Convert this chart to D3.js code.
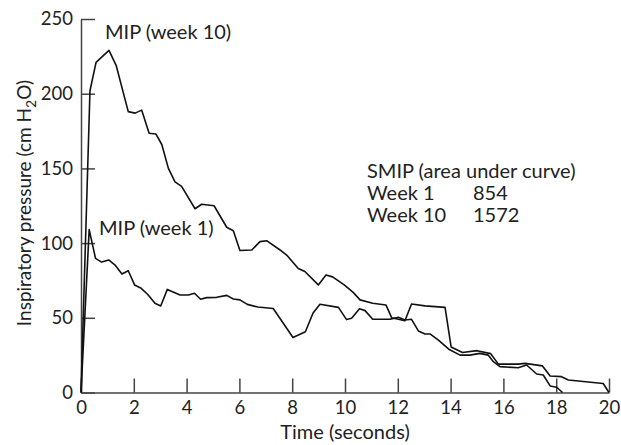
<!DOCTYPE html>
<html>
<head>
<meta charset="utf-8">
<script src="https://cdn.jsdelivr.net/npm/d3@7"></script>
<style>
  body { margin: 0; background: #fff; }
  text { font-family: Lato, "Open Sans", sans-serif; fill: #222; }
</style>
</head>
<body>
<div id="d3-container"></div>
<script>
// readings: time (s), pressure (cm H2O)
var week10Time = [0, 0.34, 0.57, 1.06, 1.33, 1.79, 2.05, 2.3, 2.58, 2.84, 3.06, 3.31, 3.56, 3.81, 4.32, 4.57, 5.04, 5.52, 5.77, 6.02, 6.47, 6.78, 7.03, 7.54, 7.79, 8.23, 8.48, 8.99, 9.28, 9.53, 9.97, 10.31, 10.57, 11.05, 11.55, 11.77, 12.27, 12.52, 13.03, 13.79, 14.02, 14.45, 15.0, 15.52, 15.81, 16.56, 16.82, 17.48, 17.77, 18.2, 18.46, 19.78, 20.0];
var week10Pressure = [0, 202, 221, 229, 219, 188, 187, 189, 173.5, 173, 166, 150, 141, 138, 123, 126, 125, 110.6, 108.3, 95, 95.4, 101, 101.6, 95.4, 92, 83, 81, 72, 78.6, 77.4, 72, 67, 62, 59.7, 58.6, 50, 48, 59.2, 58, 57, 30.5, 26.8, 28, 26, 19, 19, 19.5, 17.8, 11, 10.6, 8.4, 6, 0];

var week1Time = [0, 0.31, 0.55, 0.78, 1.05, 1.29, 1.55, 1.79, 2.03, 2.26, 2.53, 2.8, 3.02, 3.27, 3.75, 4.07, 4.3, 4.53, 4.76, 5.14, 5.52, 5.77, 6.02, 6.3, 6.7, 7.28, 8.03, 8.5, 8.79, 9.05, 9.75, 10.06, 10.25, 10.55, 10.76, 11.05, 11.7, 12.02, 12.27, 12.52, 12.78, 13.03, 13.22, 13.54, 13.93, 14.36, 14.73, 15.11, 15.43, 15.62, 15.87, 16.56, 16.88, 17.26, 17.51, 17.77, 18.02, 18.24];
var week1Pressure = [0, 109, 89.8, 87.3, 88.7, 85.3, 79.3, 81.5, 72, 70, 65.6, 59.7, 57.9, 69, 65.3, 65.3, 66.4, 62.4, 63.5, 63.7, 65, 62.6, 62, 59, 57.2, 56.2, 36.8, 40.7, 53.2, 59.1, 57, 48.8, 49.7, 56, 54.8, 49, 49, 50.3, 48.5, 49, 41.2, 39.2, 39.2, 35.1, 29, 25, 25, 26.2, 25, 20.6, 17.3, 16.6, 18.4, 12.4, 11.7, 4.4, 3.5, 0];

var xTicks = [0, 2, 4, 6, 8, 10, 12, 14, 16, 18, 20];
var yTicks = [0, 50, 100, 150, 200, 250];

var smipLabels = ["Week 1", "Week 10"];
var smipValues = [854, 1572];

var width = 621, height = 445;

var svg = d3.select("#d3-container")
  .append("svg")
    .attr("width", width)
    .attr("height", height);

var x = d3.scaleLinear()
  .domain([0, 20])
  .range([81, 609]);

var y = d3.scaleLinear()
  .domain([0, 250])
  .range([392.5, 19]);

// axes, ticks point inwards
svg.append("g")
  .attr("transform", "translate(0," + y(0) + ")")
  .call(d3.axisBottom(x).tickValues(xTicks).tickSizeInner(-14).tickSizeOuter(0).tickPadding(8));

svg.append("g")
  .attr("transform", "translate(" + x(0) + ",0)")
  .call(d3.axisLeft(y).tickValues(yTicks).tickSizeInner(-14).tickSizeOuter(0).tickPadding(8));

svg.selectAll(".domain, .tick line")
  .attr("stroke", "#444")
  .attr("stroke-width", 1.5);

svg.selectAll(".tick text")
  .style("font-family", "Lato, sans-serif")
  .style("font-size", "18.5px")
  .attr("fill", "#222");

var line = d3.line()
  .x(function (d) { return x(d[0]); })
  .y(function (d) { return y(d[1]); });

var week10 = d3.zip(week10Time, week10Pressure);
var week1 = d3.zip(week1Time, week1Pressure);

[week10, week1].forEach(function (series) {
  svg.append("path")
    .datum(series)
    .attr("fill", "none")
    .attr("stroke", "#111")
    .attr("stroke-width", 1.6)
    .attr("stroke-linejoin", "round")
    .attr("d", line);
});

// curve labels
svg.append("text")
  .attr("x", 105)
  .attr("y", 39)
  .style("font-size", "20px")
  .text("MIP (week 10)");

svg.append("text")
  .attr("x", 99)
  .attr("y", 235)
  .style("font-size", "20px")
  .text("MIP (week 1)");

// SMIP note
svg.append("text")
  .attr("x", 367)
  .attr("y", 178)
  .style("font-size", "20px")
  .text("SMIP (area under curve)");

smipLabels.forEach(function (lab, i) {
  svg.append("text")
    .attr("x", 367)
    .attr("y", 200 + i * 22)
    .style("font-size", "20px")
    .text(lab);
  svg.append("text")
    .attr("x", 473)
    .attr("y", 200 + i * 22)
    .style("font-size", "20px")
    .text(smipValues[i]);
});

// axis titles
svg.append("text")
  .attr("x", 345)
  .attr("y", 439)
  .attr("text-anchor", "middle")
  .style("font-size", "20px")
  .text("Time (seconds)");

var yTitle = svg.append("text")
  .attr("transform", "translate(31," + 203 + ") rotate(-90)")
  .attr("text-anchor", "middle")
  .style("font-size", "19px");
yTitle.append("tspan").text("Inspiratory pressure (cm H");
yTitle.append("tspan").attr("dy", 5).style("font-size", "14px").text("2");
yTitle.append("tspan").attr("dy", -5).text("O)");
</script>
</body>
</html>
